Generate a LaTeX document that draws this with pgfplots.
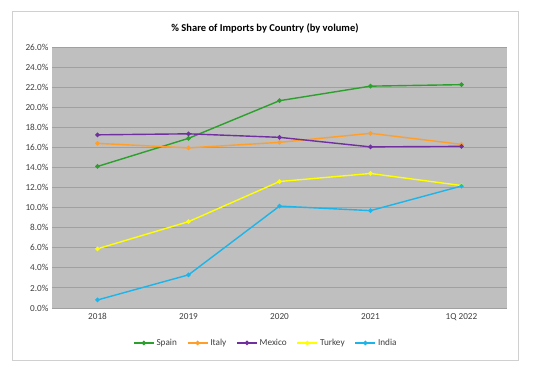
\documentclass[border=0pt]{standalone}
\usepackage{pgfplots}
\pgfplotsset{compat=1.18}
\usepackage{fontspec}
\setmainfont{Carlito}
\definecolor{cspain}{HTML}{2CA02C}
\definecolor{citaly}{HTML}{FF9F2A}
\definecolor{cmexico}{HTML}{7030A0}
\definecolor{cturkey}{HTML}{FFFF00}
\definecolor{cindia}{HTML}{1CB5EA}
\definecolor{plotbg}{HTML}{BFBFBF}
\definecolor{gridc}{HTML}{A0A0A0}
\definecolor{framec}{HTML}{D0D0D0}
\definecolor{txt}{HTML}{404040}
\begin{document}
\begin{tikzpicture}[x=1pt,y=1pt]
\path[fill=white] (0,0) rectangle (550,367);
\draw[framec, line width=0.8pt] (12,7) rectangle (518,356);
\node[font=\bfseries\fontsize{10.5}{13}\selectfont, text=black] at (265,339) {\% Share of Imports by Country (by volume)};
\begin{axis}[
  at={(52pt,59pt)}, anchor=south west,
  scale only axis, width=455pt, height=261pt,
  xmin=-0.5, xmax=4.5, ymin=0, ymax=26,
  xtick={0,1,2,3,4},
  xticklabels={2018,2019,2020,2021,1Q 2022},
  ytick={0,2,...,26},
  yticklabel={\pgfmathprintnumber[fixed,fixed zerofill,precision=1]{\tick}\%},
  /pgf/number format/assume math mode=true,
  tick label style={font=\fontsize{9.2}{11}\selectfont, text=txt},
  xticklabel style={yshift=-2pt},
  major tick length=0pt,
  axis background/.style={fill=plotbg},
  axis line style={draw=none},
  ymajorgrids, grid style={gridc, line width=0.9pt},
  legend style={at={(0.47,-0.134)}, anchor=center, draw=none, fill=none,
    legend columns=5, font=\fontsize{9.2}{11}\selectfont, text=txt,
    /tikz/every even column/.append style={column sep=8pt}},
  legend image code/.code={\draw[#1] (0pt,0pt) -- (20pt,0pt); \draw[#1, mark repeat=1] plot coordinates {(10pt,0pt)};},
  every axis plot/.append style={line width=1.4pt, mark=*, mark size=1.5pt},
]
\addplot[cspain, mark options={fill=cspain}] coordinates {(0,14.1) (1,16.9) (2,20.65) (3,22.1) (4,22.25)};
\addlegendentry{Spain}
\addplot[citaly, mark options={fill=citaly}] coordinates {(0,16.4) (1,15.95) (2,16.5) (3,17.4) (4,16.3)};
\addlegendentry{Italy}
\addplot[cmexico, mark options={fill=cmexico}] coordinates {(0,17.25) (1,17.35) (2,17.0) (3,16.05) (4,16.1)};
\addlegendentry{Mexico}
\addplot[cturkey, mark options={fill=cturkey}] coordinates {(0,5.9) (1,8.6) (2,12.6) (3,13.4) (4,12.2)};
\addlegendentry{Turkey}
\addplot[cindia, mark options={fill=cindia}] coordinates {(0,0.8) (1,3.3) (2,10.15) (3,9.7) (4,12.15)};
\addlegendentry{India}
\end{axis}
\end{tikzpicture}
\end{document}
